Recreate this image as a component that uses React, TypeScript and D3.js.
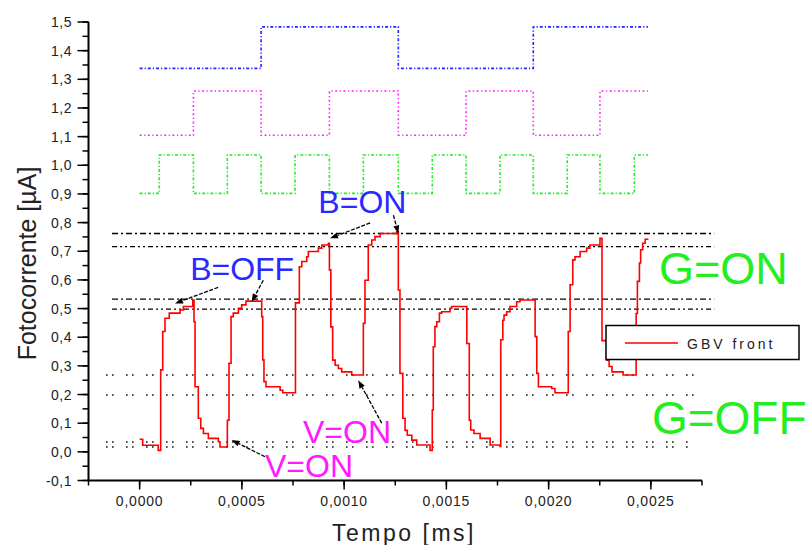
import React from "react";
import * as d3 from "d3";

// ---- data ----
const xTickValues = [0, 0.0005, 0.001, 0.0015, 0.002, 0.0025];
const xTickLabels = ["0,0000", "0,0005", "0,0010", "0,0015", "0,0020", "0,0025"];
const yTickValues = [-0.1, 0, 0.1, 0.2, 0.3, 0.4, 0.5, 0.6, 0.7, 0.8, 0.9, 1.0, 1.1, 1.2, 1.3, 1.4, 1.5];
const yTickLabels = ["-0,1", "0,0", "0,1", "0,2", "0,3", "0,4", "0,5", "0,6", "0,7", "0,8", "0,9", "1,0", "1,1", "1,2", "1,3", "1,4", "1,5"];

// blue (B) control signal
const blueT = [0, 0.000594, 0.001265, 0.001925, 0.002486];
const blueV = [1.338, 1.483, 1.338, 1.483, 1.483];
// magenta (V) control signal
const magT = [0, 0.000263, 0.000594, 0.000928, 0.001265, 0.001596, 0.001925, 0.002251, 0.002486];
const magV = [1.105, 1.259, 1.105, 1.259, 1.105, 1.259, 1.105, 1.259, 1.259];
// green (G) control signal
const greenT = [0, 0.0000963, 0.000263, 0.000429, 0.000594, 0.00076, 0.000928, 0.001094, 0.001265, 0.001431, 0.001596, 0.001762, 0.001925, 0.002091, 0.002251, 0.002419, 0.002486];
const greenV = [0.902, 1.036, 0.902, 1.036, 0.902, 1.036, 0.902, 1.036, 0.902, 1.036, 0.902, 1.036, 0.902, 1.036, 0.902, 1.036, 1.036];

// GBV front photocurrent
const redT = [
  0, 0.000015, 0.000091, 0.000103, 0.000113, 0.000124, 0.000145, 0.000198, 0.000214, 0.00026,
  0.000266, 0.000271, 0.000287, 0.000299, 0.000312, 0.000336, 0.000385, 0.000393,
  0.000429, 0.000437, 0.000447, 0.000458, 0.000483, 0.000499, 0.00052,
  0.000597, 0.000602, 0.000608, 0.000618, 0.000687, 0.0007,
  0.000762, 0.000781, 0.000793, 0.000817, 0.000825, 0.000874, 0.000891, 0.000923,
  0.000928, 0.000935, 0.000944, 0.000956, 0.000972, 0.000988, 0.001037,
  0.001094, 0.001102, 0.001118, 0.001135, 0.001151, 0.001176, 0.001257,
  0.001265, 0.001273, 0.001287, 0.001298, 0.001309, 0.001331, 0.001355, 0.00142,
  0.001431, 0.001436, 0.001444, 0.001453, 0.001466, 0.001477, 0.001518, 0.001526,
  0.0016, 0.001612, 0.001619, 0.001635, 0.001665, 0.001714, 0.001762,
  0.001766, 0.001776, 0.001782, 0.001795, 0.001811, 0.001844, 0.00186,
  0.001934, 0.001942, 0.00195, 0.002015, 0.002031,
  0.002096, 0.002105, 0.002118, 0.002129, 0.002154, 0.002186, 0.002202, 0.002251,
  0.002261, 0.002284, 0.002296, 0.00231, 0.002364,
  0.002428, 0.002434, 0.002444, 0.00245, 0.00246, 0.002472, 0.002488,
];
const redV = [
  0.044, 0.023, 0.005, 0.286, 0.42, 0.466, 0.484, 0.495, 0.507, 0.53,
  0.454, 0.227, 0.117, 0.082, 0.064, 0.047, 0.035, 0.017,
  0.11, 0.309, 0.472, 0.484, 0.501, 0.513, 0.526,
  0.472, 0.321, 0.245, 0.227, 0.215, 0.206,
  0.52, 0.646, 0.664, 0.681, 0.699, 0.711, 0.722, 0.728,
  0.635, 0.436, 0.32, 0.302, 0.291, 0.279, 0.268,
  0.449, 0.599, 0.722, 0.739, 0.751, 0.762, 0.768,
  0.565, 0.274, 0.117, 0.075, 0.058, 0.041, 0.024, 0.005,
  0.146, 0.367, 0.437, 0.454, 0.484, 0.489, 0.501, 0.507,
  0.378, 0.11, 0.076, 0.064, 0.047, 0.024, 0.019,
  0.391, 0.459, 0.477, 0.489, 0.507, 0.524, 0.53,
  0.402, 0.274, 0.227, 0.221, 0.206,
  0.42, 0.583, 0.67, 0.681, 0.699, 0.711, 0.722, 0.745,
  0.388, 0.32, 0.298, 0.279, 0.268,
  0.483, 0.595, 0.659, 0.705, 0.728, 0.742, 0.742,
];

// reference levels (G=ON, dash-dot) and (G=OFF, dotted)
const dashLevels = [0.762, 0.716, 0.533, 0.498];
const dashStart = -0.000135;
const dashEnd = 0.00281;
const dotLevels = [0.268, 0.198, 0.034, 0.017];
const dotStart = [-0.000164, -0.000164, -0.000164, -0.000164];
const dotEnd = [0.00276, 0.00276, 0.0027, 0.0027];

// annotations
const labelText = ["B=ON", "B=OFF", "V=ON", "V=ON", "G=ON", "G=OFF"];
const labelT = [0.000874, 0.000247, 0.000799, 0.000613, 0.00254, 0.002505];
const labelV = [0.833, 0.599, 0.03, -0.087, 0.587, 0.064];
const labelColor = ["#2a2aff", "#2a2aff", "#ff1aff", "#ff1aff", "#22ee22", "#22ee22"];
const labelSize = [32, 32, 32, 32, 45, 46];

const arrowFrom: [number, number][] = [
  [0.000384, 0.574], [0.000605, 0.599], [0.001127, 0.799], [0.001241, 0.826], [0.001184, 0.1], [0.000613, -0.017],
];
const arrowTo: [number, number][] = [
  [0.000173, 0.518], [0.000548, 0.524], [0.000931, 0.745], [0.001265, 0.762], [0.001069, 0.25], [0.00045, 0.041],
];

const legendLabel = "GBV front";

// ---- scales ----
const x = d3.scaleLinear().domain([-0.00025, 0.00275]).range([88.5, 702]);
const y = d3.scaleLinear().domain([-0.1, 1.5]).range([480.5, 22]);

const stepLine = d3
  .line<[number, number]>()
  .x((d) => x(d[0]))
  .y((d) => y(d[1]))
  .curve(d3.curveStepAfter);

const zip = (t: number[], v: number[]) => t.map((tt, i) => [tt, v[i]] as [number, number]);

const xMinor = d3.range(-1, 12).map((i) => i * 0.00025);
const yMinor = d3.range(-2, 31).map((i) => i * 0.05);

const FONT = "'Liberation Sans', Arial, sans-serif";

function Arrow({ from, to }: { from: [number, number]; to: [number, number] }) {
  const x1 = x(from[0]);
  const y1 = y(from[1]);
  const x2 = x(to[0]);
  const y2 = y(to[1]);
  const ang = Math.atan2(y2 - y1, x2 - x1);
  const L = 8;
  const W = 3;
  const bx = x2 - L * Math.cos(ang);
  const by = y2 - L * Math.sin(ang);
  const p1 = [bx + W * Math.sin(ang), by - W * Math.cos(ang)];
  const p2 = [bx - W * Math.sin(ang), by + W * Math.cos(ang)];
  return (
    <g>
      <line x1={x1} y1={y1} x2={bx} y2={by} stroke="#000" strokeWidth={1.3} strokeDasharray="4,1.5" />
      <polygon points={`${x2},${y2} ${p1[0]},${p1[1]} ${p2[0]},${p2[1]}`} fill="#000" />
    </g>
  );
}

export default function App() {
  const x0 = x.range()[0];
  const y0 = y.range()[0];
  return (
    <svg
      width={810}
      height={545}
      style={{ position: "absolute", left: 0, top: 0, background: "#fff" }}
      fontFamily={FONT}
    >
      <rect width={810} height={545} fill="#fff" />

      {/* reference lines */}
      {dashLevels.map((v, i) => (
        <line
          key={"d" + i}
          x1={x(dashStart)}
          x2={x(dashEnd)}
          y1={y(v)}
          y2={y(v)}
          stroke="#000"
          strokeWidth={1.4}
          strokeDasharray={i % 2 === 0 ? "6,3,2,3" : "5,3,2,3,2,3"}
        />
      ))}
      {dotLevels.map((v, i) => (
        <line
          key={"o" + i}
          x1={x(dotStart[i])}
          x2={x(dotEnd[i])}
          y1={y(v)}
          y2={y(v)}
          stroke="#000"
          strokeWidth={1.5}
          strokeDasharray="1.5,4.5,1.5,12.5"
        />
      ))}

      {/* control signals */}
      <path d={stepLine(zip(blueT, blueV)) || ""} fill="none" stroke="#2525ff" strokeWidth={1.6} strokeDasharray="3,2,1.2,2" />
      <path d={stepLine(zip(magT, magV)) || ""} fill="none" stroke="#ff22ff" strokeWidth={1.6} strokeDasharray="2,2.5,1.2,2.5" />
      <path d={stepLine(zip(greenT, greenV)) || ""} fill="none" stroke="#22ee22" strokeWidth={1.6} strokeDasharray="3,2,1.2,2" />

      {/* photocurrent */}
      <path d={stepLine(zip(redT, redV)) || ""} fill="none" stroke="#ff0000" strokeWidth={1.6} />

      {/* axes */}
      <line x1={x0} x2={x.range()[1]} y1={y0} y2={y0} stroke="#000" strokeWidth={2} />
      <line x1={x0} x2={x0} y1={y.range()[1]} y2={y0} stroke="#000" strokeWidth={2} />
      {xMinor.map((t, i) => (
        <line key={"xm" + i} x1={x(t)} x2={x(t)} y1={y0} y2={y0 + 5} stroke="#000" strokeWidth={1.5} />
      ))}
      {xTickValues.map((t, i) => (
        <g key={"xt" + i}>
          <line x1={x(t)} x2={x(t)} y1={y0} y2={y0 + 9} stroke="#000" strokeWidth={1.5} />
          <text x={x(t)} y={506} textAnchor="middle" fontSize={14} letterSpacing={0.8} fill="#222">
            {xTickLabels[i]}
          </text>
        </g>
      ))}
      {yMinor.map((v, i) => (
        <line key={"ym" + i} x1={x0 - 6} x2={x0} y1={y(v)} y2={y(v)} stroke="#000" strokeWidth={1.5} />
      ))}
      {yTickValues.map((v, i) => (
        <g key={"yt" + i}>
          <line x1={x0 - 11} x2={x0} y1={y(v)} y2={y(v)} stroke="#000" strokeWidth={1.5} />
          <text x={72} y={y(v) + 5} textAnchor="end" fontSize={14} letterSpacing={0.5} fill="#222">
            {yTickLabels[i]}
          </text>
        </g>
      ))}

      {/* axis titles */}
      <text
        transform={`translate(36,263.5) rotate(-90)`}
        textAnchor="middle"
        fontSize={25}
        fill="#222"
      >
        Fotocorrente [µA]
      </text>
      <text x={404} y={541} textAnchor="middle" fontSize={23} letterSpacing={2.5} fill="#222">
        Tempo [ms]
      </text>

      {/* annotations */}
      {arrowFrom.map((f, i) => (
        <Arrow key={"a" + i} from={f} to={arrowTo[i]} />
      ))}
      {labelText.map((s, i) => (
        <text key={"l" + i} x={x(labelT[i])} y={y(labelV[i])} fontSize={labelSize[i]} fill={labelColor[i]}>
          {s}
        </text>
      ))}

      {/* legend */}
      <rect x={606} y={325.5} width={193} height={34} fill="#fff" stroke="#000" strokeWidth={1.5} />
      <line x1={625} x2={678} y1={343} y2={343} stroke="#ff0000" strokeWidth={1.5} />
      <text x={687} y={348.5} fontSize={14} letterSpacing={3} fill="#222">
        {legendLabel}
      </text>
    </svg>
  );
}
